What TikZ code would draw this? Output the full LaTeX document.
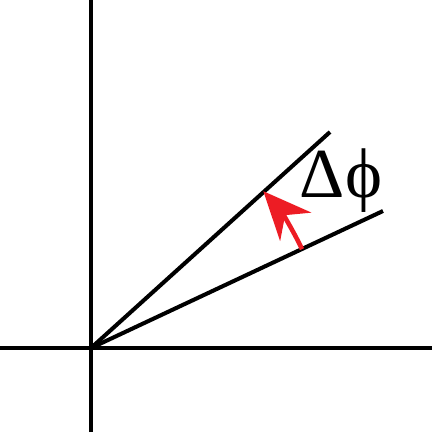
\documentclass[tikz,border=0pt]{standalone}
\usepackage{fontspec}
\newfontfamily\greekfont{Liberation Serif}
\usetikzlibrary{arrows.meta}
\definecolor{arcred}{RGB}{237,28,36}

\begin{document}
\begin{tikzpicture}[line width=1.15pt,>={Stealth[length=4.8mm,width=4.2mm]}]
  \useasboundingbox (0,0) rectangle (4.34,4.35);
  \coordinate (O) at (0.91,0.87);
  \coordinate (L) at (0,0.87);
  \coordinate (R) at (4.32,0.87);
  \coordinate (B) at (0.91,0.03);
  \coordinate (T) at (0.91,4.35);
  \coordinate (A) at (3.30,3.03);
  \coordinate (C) at (3.83,2.24);
  \draw (L) -- (R);
  \draw (B) -- (T);
  \draw (O) -- (A);
  \draw (O) -- (C);
  \draw[arcred,line width=1.3pt,->] ([shift={(25.1:2.33)}]O) arc[start angle=25.1,end angle=42.3,radius=2.33];
  \node[anchor=base,inner sep=0pt,font=\greekfont\fontsize{20}{24}\selectfont] (dphi) at (3.41,2.38) {Δϕ};
\end{tikzpicture}
\end{document}
